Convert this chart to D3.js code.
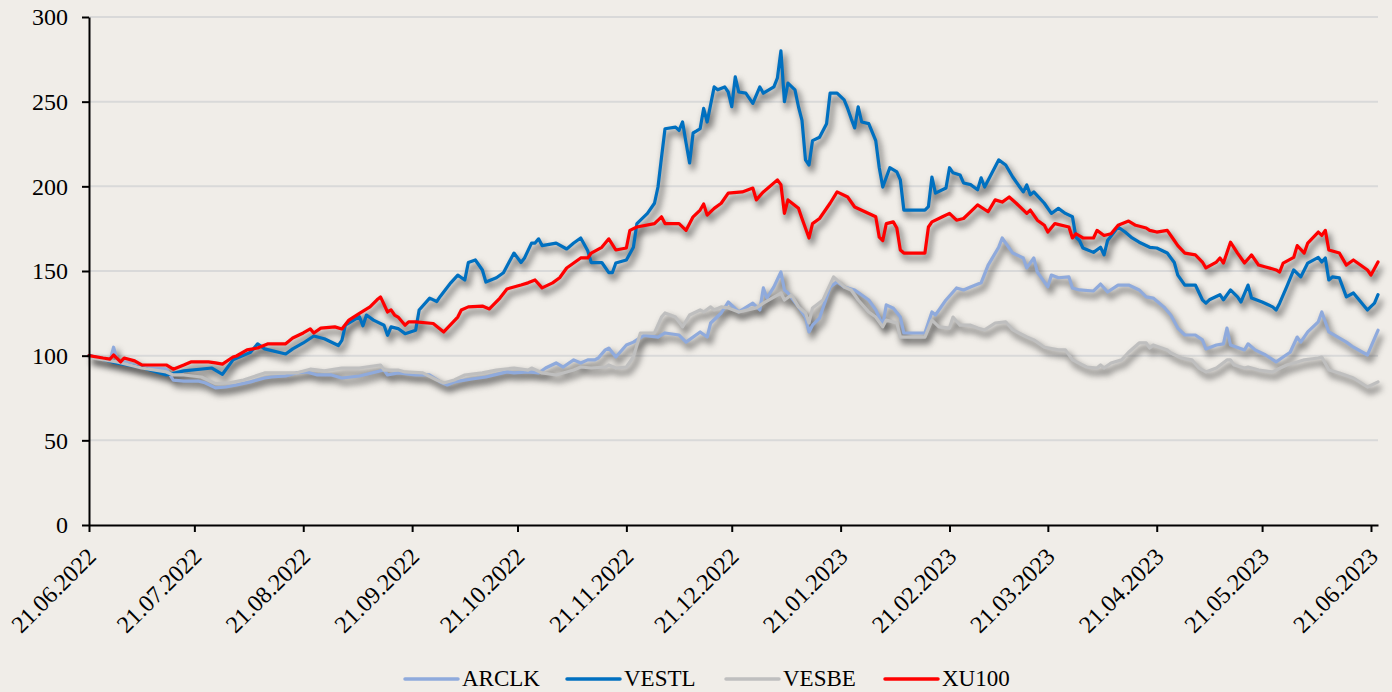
<!DOCTYPE html>
<html><head><meta charset="utf-8">
<script src="https://cdn.jsdelivr.net/npm/d3@7"></script>
<style>
html,body{margin:0;padding:0;background:#F0EDE8;}
svg{display:block;}
text{font-family:"Liberation Serif","Times New Roman",serif;fill:#000;}
</style></head>
<body>
<svg id="chart" width="1392" height="692"></svg>
<script>
const tickLabels = ["21.06.2022","21.07.2022","21.08.2022","21.09.2022","21.10.2022","21.11.2022","21.12.2022","21.01.2023","21.02.2023","21.03.2023","21.04.2023","21.05.2023","21.06.2023"];
const yTicks = [0,50,100,150,200,250,300];
const seriesNames = ["ARCLK","VESTL","VESBE","XU100"];
const seriesColors = ["#8FAADC","#0070C0","#BFBFBF","#FF0000"];

const ARCLK = [["2022-06-21",100],["2022-06-26",98],["2022-06-27",97],["2022-06-28",105],["2022-06-29",97.5],["2022-07-06",93],["2022-07-09",92.7],["2022-07-13",92],["2022-07-15",85.6],["2022-07-18",85],["2022-07-22",85],["2022-07-24",84],["2022-07-27",81],["2022-07-30",81.5],["2022-08-02",82.7],["2022-08-06",84.5],["2022-08-10",86.8],["2022-08-12",87.4],["2022-08-16",88],["2022-08-19",89.8],["2022-08-22",90.4],["2022-08-25",88.6],["2022-08-29",88.6],["2022-09-01",86.8],["2022-09-06",88],["2022-09-13",91.5],["2022-09-14",88.6],["2022-09-17",89.8],["2022-09-22",88.6],["2022-09-26",88.6],["2022-09-29",84.5],["2022-10-01",82.7],["2022-10-03",84.5],["2022-10-08",86.2],["2022-10-12",87.4],["2022-10-18",90.4],["2022-10-20",89.8],["2022-10-24",90.4],["2022-10-27",89.8],["2022-10-29",92.7],["2022-11-01",95.7],["2022-11-03",93.3],["2022-11-06",97.5],["2022-11-08",95.7],["2022-11-10",97.5],["2022-11-12",97.5],["2022-11-13",98.6],["2022-11-15",103.4],["2022-11-16",104.5],["2022-11-18",99.2],["2022-11-21",106.3],["2022-11-23",108],["2022-11-26",112],["2022-11-30",111],["2022-12-02",113.4],["2022-12-06",112.2],["2022-12-08",108],["2022-12-12",114],["2022-12-14",111],["2022-12-15",119.3],["2022-12-18",125.2],["2022-12-20",131.7],["2022-12-23",125.8],["2022-12-27",131],["2022-12-29",127],["2022-12-30",140],["2022-12-31",134],["2023-01-02",140.6],["2023-01-04",149.4],["2023-01-05",138.8],["2023-01-06",137],["2023-01-09",128.8],["2023-01-11",122.8],["2023-01-12",114],["2023-01-13",118],["2023-01-15",122.2],["2023-01-18",140.6],["2023-01-20",143.5],["2023-01-22",140.6],["2023-01-25",138.8],["2023-01-29",132.9],["2023-01-31",127],["2023-02-02",118],["2023-02-03",130],["2023-02-05",128],["2023-02-07",122.8],["2023-02-08",113.4],["2023-02-14",113.4],["2023-02-16",125.8],["2023-02-17",124],["2023-02-20",132.9],["2023-02-23",140],["2023-02-25",138.8],["2023-02-27",140.6],["2023-03-02",143],["2023-03-04",153.5],["2023-03-07",164],["2023-03-08",169.5],["2023-03-11",160.6],["2023-03-14",157.7],["2023-03-15",151.8],["2023-03-17",157.7],["2023-03-18",149.4],["2023-03-21",140.6],["2023-03-22",147.6],["2023-03-24",146],["2023-03-27",146.5],["2023-03-28",140],["2023-03-30",138.8],["2023-04-03",138.2],["2023-04-05",142.3],["2023-04-07",137.6],["2023-04-10",141.7],["2023-04-13",141.7],["2023-04-16",138.8],["2023-04-18",134.7],["2023-04-20",134],["2023-04-23",128.8],["2023-04-25",124],["2023-04-27",116.3],["2023-04-29",112.2],["2023-05-02",112.2],["2023-05-04",109.3],["2023-05-05",104],["2023-05-08",106.3],["2023-05-10",107],["2023-05-11",116.3],["2023-05-12",106.3],["2023-05-16",103.4],["2023-05-17",107],["2023-05-19",103.4],["2023-05-22",100.4],["2023-05-25",96.3],["2023-05-27",99.2],["2023-05-29",102],["2023-05-31",111],["2023-06-01",108],["2023-06-03",114],["2023-06-06",120],["2023-06-07",125.8],["2023-06-09",114],["2023-06-14",108],["2023-06-16",105],["2023-06-20",100.4],["2023-06-23",115]];

const VESTL = [["2022-06-21",100],["2022-06-29",95.6],["2022-07-06",93],["2022-07-13",88.6],["2022-07-18",91],["2022-07-26",92.7],["2022-07-29",89],["2022-08-01",97.5],["2022-08-06",102],["2022-08-08",107],["2022-08-10",104],["2022-08-16",101],["2022-08-18",104],["2022-08-21",107.5],["2022-08-24",111.6],["2022-08-27",110],["2022-08-31",106],["2022-09-01",109],["2022-09-02",118],["2022-09-06",123],["2022-09-07",117.6],["2022-09-08",124],["2022-09-10",121],["2022-09-13",118],["2022-09-14",112],["2022-09-15",117],["2022-09-17",116],["2022-09-19",113],["2022-09-22",115],["2022-09-23",127],["2022-09-26",134],["2022-09-28",132],["2022-09-29",135],["2022-10-02",143],["2022-10-04",147.6],["2022-10-06",144.7],["2022-10-07",155],["2022-10-09",156.5],["2022-10-11",150.6],["2022-10-12",143.5],["2022-10-15",146],["2022-10-17",149],["2022-10-20",160.6],["2022-10-22",155],["2022-10-23",157.7],["2022-10-25",166.5],["2022-10-26",166.5],["2022-10-27",169],["2022-10-28",165],["2022-11-01",166.5],["2022-11-04",163],["2022-11-06",166.5],["2022-11-08",169.5],["2022-11-10",162],["2022-11-11",155],["2022-11-14",155],["2022-11-16",149],["2022-11-17",149],["2022-11-18",154.7],["2022-11-21",156.5],["2022-11-23",164],["2022-11-24",178],["2022-11-27",184],["2022-11-29",190],["2022-11-30",199.6],["2022-12-01",217],["2022-12-02",234],["2022-12-05",235],["2022-12-06",233],["2022-12-07",238],["2022-12-08",225.6],["2022-12-09",213.8],["2022-12-10",231.5],["2022-12-11",232.7],["2022-12-12",234],["2022-12-13",246],["2022-12-14",238],["2022-12-16",258.7],["2022-12-17",257],["2022-12-19",258.7],["2022-12-20",255.7],["2022-12-21",247],["2022-12-22",264.6],["2022-12-23",255.7],["2022-12-25",255],["2022-12-27",249],["2022-12-29",258.7],["2022-12-30",255],["2023-01-02",258.7],["2023-01-03",264],["2023-01-04",280],["2023-01-05",250],["2023-01-06",261],["2023-01-08",257],["2023-01-09",247],["2023-01-10",239],["2023-01-11",215.6],["2023-01-12",212.6],["2023-01-13",227],["2023-01-15",229],["2023-01-17",237],["2023-01-18",255],["2023-01-20",255],["2023-01-22",251],["2023-01-23",246],["2023-01-24",240],["2023-01-25",234.5],["2023-01-26",247],["2023-01-27",238],["2023-01-29",237],["2023-01-31",227],["2023-02-01",211],["2023-02-02",199.6],["2023-02-04",211],["2023-02-06",208.5],["2023-02-07",203.8],["2023-02-08",186],["2023-02-14",186],["2023-02-15",188],["2023-02-16",205.5],["2023-02-17",196],["2023-02-20",199],["2023-02-21",211],["2023-02-22",208],["2023-02-24",206.7],["2023-02-25",202],["2023-02-27",201],["2023-03-01",198],["2023-03-02",205],["2023-03-03",199.6],["2023-03-07",215.6],["2023-03-09",212.6],["2023-03-11",205.5],["2023-03-13",199.6],["2023-03-14",196.7],["2023-03-15",200.8],["2023-03-16",195],["2023-03-17",196.7],["2023-03-20",190],["2023-03-22",184],["2023-03-24",187],["2023-03-26",184],["2023-03-28",182],["2023-03-29",170],["2023-03-30",168],["2023-03-31",163.6],["2023-04-03",161],["2023-04-05",164],["2023-04-06",159.5],["2023-04-07",168],["2023-04-10",176],["2023-04-12",173],["2023-04-14",169.5],["2023-04-16",167],["2023-04-19",164],["2023-04-21",163.6],["2023-04-24",160.6],["2023-04-26",155],["2023-04-27",147.6],["2023-04-29",141.7],["2023-05-02",141.7],["2023-05-04",133],["2023-05-05",131],["2023-05-06",133],["2023-05-09",136],["2023-05-10",133],["2023-05-12",138.8],["2023-05-14",134.7],["2023-05-15",131.7],["2023-05-17",141.7],["2023-05-18",134],["2023-05-21",131.7],["2023-05-24",128.8],["2023-05-25",127],["2023-05-26",131],["2023-05-28",140.6],["2023-05-30",150.6],["2023-06-01",146.5],["2023-06-03",154.7],["2023-06-06",158],["2023-06-07",155.3],["2023-06-08",157.7],["2023-06-09",144.7],["2023-06-10",146.5],["2023-06-12",145.9],["2023-06-14",134.7],["2023-06-16",137],["2023-06-20",127],["2023-06-22",131],["2023-06-23",136]];

const VESBE = [["2022-06-21",99],["2022-06-29",96.3],["2022-07-06",92.7],["2022-07-13",90.4],["2022-07-15",88.6],["2022-07-18",88.6],["2022-07-23",87.4],["2022-07-27",83.5],["2022-07-31",84],["2022-08-04",85.6],["2022-08-10",89.8],["2022-08-16",89.8],["2022-08-19",89.8],["2022-08-23",92],["2022-08-27",91],["2022-09-01",92.7],["2022-09-06",92.7],["2022-09-12",94.5],["2022-09-13",91.5],["2022-09-17",91.5],["2022-09-19",90.4],["2022-09-24",89.8],["2022-09-28",85.6],["2022-09-30",83.9],["2022-10-03",85.6],["2022-10-06",88.6],["2022-10-11",89.8],["2022-10-15",91.5],["2022-10-20",92.7],["2022-10-24",91.5],["2022-10-25",92.7],["2022-10-28",89.8],["2022-11-01",88.6],["2022-11-06",91.5],["2022-11-08",93.3],["2022-11-11",92.7],["2022-11-15",93.3],["2022-11-16",94.5],["2022-11-18",92.7],["2022-11-21",93.3],["2022-11-23",99.2],["2022-11-25",113.4],["2022-11-29",113.4],["2022-12-01",122.8],["2022-12-02",125.2],["2022-12-05",122.8],["2022-12-07",117],["2022-12-09",124],["2022-12-12",127],["2022-12-13",125.8],["2022-12-15",128.8],["2022-12-16",127],["2022-12-18",128.8],["2022-12-20",128.2],["2022-12-23",125.8],["2022-12-28",128.2],["2022-12-30",131],["2023-01-03",135.8],["2023-01-04",137],["2023-01-05",132.9],["2023-01-07",135.8],["2023-01-09",128.8],["2023-01-11",125.2],["2023-01-12",119.3],["2023-01-13",128.2],["2023-01-16",132.9],["2023-01-19",146.5],["2023-01-22",140.6],["2023-01-24",138.8],["2023-01-26",132.9],["2023-01-29",125.8],["2023-01-31",122.8],["2023-02-02",117],["2023-02-03",121],["2023-02-06",119.3],["2023-02-07",111],["2023-02-14",111],["2023-02-16",121],["2023-02-18",117],["2023-02-21",116.3],["2023-02-22",122.8],["2023-02-24",118],["2023-02-27",118],["2023-03-01",116.3],["2023-03-03",115.2],["2023-03-06",119.3],["2023-03-09",120],["2023-03-11",115.2],["2023-03-15",111],["2023-03-17",109.3],["2023-03-20",105],["2023-03-24",103.4],["2023-03-26",103.4],["2023-03-28",97.5],["2023-04-01",93.3],["2023-04-04",92.7],["2023-04-05",94.5],["2023-04-06",92.7],["2023-04-08",95.7],["2023-04-11",97.5],["2023-04-13",102],["2023-04-16",107.5],["2023-04-18",107.5],["2023-04-19",104.5],["2023-04-20",106.3],["2023-04-24",103.4],["2023-04-25",101.6],["2023-04-28",98.6],["2023-05-01",97.5],["2023-05-03",92.7],["2023-05-05",90.4],["2023-05-08",92.7],["2023-05-11",97.5],["2023-05-12",97.5],["2023-05-13",94.5],["2023-05-16",92.7],["2023-05-17",93.3],["2023-05-20",91.5],["2023-05-24",90.4],["2023-05-25",91.5],["2023-05-28",94.5],["2023-05-31",96.3],["2023-06-02",97.5],["2023-06-06",98.6],["2023-06-07",99.2],["2023-06-09",91.5],["2023-06-12",89.8],["2023-06-16",86.8],["2023-06-20",81.5],["2023-06-23",84.5]];

const XU100 = [["2022-06-21",100],["2022-06-25",98.6],["2022-06-27",98],["2022-06-28",100.4],["2022-06-30",96.3],["2022-07-01",98.6],["2022-07-04",96.9],["2022-07-06",94.5],["2022-07-09",94.5],["2022-07-13",94.5],["2022-07-15",92],["2022-07-18",94.5],["2022-07-20",96.3],["2022-07-25",96.3],["2022-07-27",95.7],["2022-07-29",95],["2022-08-01",99.2],["2022-08-02",99.8],["2022-08-05",103.4],["2022-08-08",104.5],["2022-08-11",107],["2022-08-16",107],["2022-08-18",110.4],["2022-08-21",113.4],["2022-08-23",115.8],["2022-08-24",113.4],["2022-08-26",116.3],["2022-08-30",117],["2022-09-01",115.8],["2022-09-03",121],["2022-09-06",125],["2022-09-09",128.8],["2022-09-11",133],["2022-09-12",134.7],["2022-09-14",125.8],["2022-09-15",127],["2022-09-16",124],["2022-09-17",122.8],["2022-09-19",118],["2022-09-20",120],["2022-09-22",120],["2022-09-27",119],["2022-09-30",114],["2022-10-04",122.8],["2022-10-05",127],["2022-10-07",128.8],["2022-10-11",129.3],["2022-10-13",127.6],["2022-10-16",134],["2022-10-18",139.4],["2022-10-22",141.7],["2022-10-24",143],["2022-10-26",144.7],["2022-10-28",140],["2022-10-31",143],["2022-11-02",146],["2022-11-04",151.8],["2022-11-06",154.7],["2022-11-08",157.7],["2022-11-10",157.7],["2022-11-11",160.6],["2022-11-14",164],["2022-11-16",169],["2022-11-18",162.4],["2022-11-21",163.6],["2022-11-22",174],["2022-11-24",176],["2022-11-29",178],["2022-12-01",182],["2022-12-02",178],["2022-12-06",178],["2022-12-08",174],["2022-12-10",182],["2022-12-12",186],["2022-12-13",189.6],["2022-12-14",183],["2022-12-16",187],["2022-12-18",190],["2022-12-20",196],["2022-12-24",196.7],["2022-12-27",199],["2022-12-28",192],["2022-12-30",196.7],["2023-01-03",203.8],["2023-01-04",201],["2023-01-05",184],["2023-01-06",192],["2023-01-09",187],["2023-01-10",181],["2023-01-12",169.5],["2023-01-13",178],["2023-01-15",181],["2023-01-18",190],["2023-01-20",196.7],["2023-01-23",193.7],["2023-01-25",187.8],["2023-01-29",184],["2023-01-31",182],["2023-02-01",170],["2023-02-02",168],["2023-02-03",178],["2023-02-05",179],["2023-02-06",175.4],["2023-02-07",162.4],["2023-02-08",160.6],["2023-02-14",160.6],["2023-02-15",176],["2023-02-16",179],["2023-02-19",182],["2023-02-21",184],["2023-02-23",180],["2023-02-25",181],["2023-02-28",187],["2023-03-01",189],["2023-03-04",185],["2023-03-06",192],["2023-03-08",190.7],["2023-03-10",193.7],["2023-03-12",190],["2023-03-15",184],["2023-03-16",186],["2023-03-18",180],["2023-03-20",177],["2023-03-21",173],["2023-03-23",178],["2023-03-27",176],["2023-03-28",169.5],["2023-03-29",172],["2023-03-31",169.5],["2023-04-03",169.5],["2023-04-04",174],["2023-04-06",171],["2023-04-08",172],["2023-04-10",177],["2023-04-13",179.5],["2023-04-15",177],["2023-04-18",175.4],["2023-04-19",174],["2023-04-21",173],["2023-04-24",174],["2023-04-26",168],["2023-04-27",165],["2023-04-29",160.6],["2023-05-02",159.5],["2023-05-04",155.3],["2023-05-05",151.8],["2023-05-08",155.3],["2023-05-09",157.7],["2023-05-10",154.7],["2023-05-12",167],["2023-05-14",160.6],["2023-05-16",154.7],["2023-05-18",159.5],["2023-05-20",153.5],["2023-05-22",152.4],["2023-05-25",150.6],["2023-05-26",149.4],["2023-05-27",154.7],["2023-05-30",158],["2023-05-31",165],["2023-06-02",160.6],["2023-06-03",166.5],["2023-06-06",173],["2023-06-07",171],["2023-06-08",174],["2023-06-09",162.4],["2023-06-12",160.6],["2023-06-14",153.5],["2023-06-16",156.5],["2023-06-20",150.6],["2023-06-21",147.6],["2023-06-23",155.3]];

const seriesData = [ARCLK, VESTL, VESBE, XU100];

const parseISO = d3.timeParse("%Y-%m-%d");
const parseTick = d3.timeParse("%d.%m.%Y");
const fmtTick = d3.timeFormat("%d.%m.%Y");

const svg = d3.select("#chart");
const L = 89, R = 1378, T = 17, B = 525;

const x = d3.scaleTime().domain([parseISO("2022-06-21"), parseISO("2023-06-23")]).range([L, R]);
const y = d3.scaleLinear().domain([0, 300]).range([B, T]);

svg.append("rect").attr("width",1392).attr("height",692).attr("fill","#F0EDE8");

// gridlines
svg.append("g").selectAll("line").data(yTicks.filter(v => v > 0)).join("line")
  .attr("x1", L).attr("x2", R).attr("y1", d => y(d)).attr("y2", d => y(d))
  .attr("stroke", "#D9D9D9").attr("stroke-width", 2);

const line = d3.line().x(d => x(parseISO(d[0]))).y(d => y(d[1])).curve(d3.curveLinear);

// soft drop shadows then lines, series in order
const shadowG = svg.append("g").attr("transform","translate(3,5)").style("filter","blur(3px)");
const linesG = svg.append("g");
seriesData.forEach((data, i) => {
  shadowG.append("path").attr("d", line(data)).attr("fill","none")
    .attr("stroke","#3a3a3a").attr("stroke-opacity",0.6).attr("stroke-width",5)
    .attr("stroke-linejoin","round");
  linesG.append("path").attr("d", line(data)).attr("fill","none")
    .attr("stroke", seriesColors[i]).attr("stroke-width", 3.2)
    .attr("stroke-linejoin","round").attr("stroke-linecap","round");
});

// y axis
const yAxis = svg.append("g").attr("transform", `translate(${L},0)`)
  .call(d3.axisLeft(y).tickValues(yTicks).tickSize(7).tickSizeOuter(0).tickPadding(14));
yAxis.select(".domain").attr("stroke","#000").attr("stroke-width",2);
yAxis.selectAll(".tick line").attr("stroke","#000").attr("stroke-width",2);
yAxis.selectAll(".tick text").attr("font-size",24).attr("font-family","Liberation Serif, serif").attr("fill","#000");

// x axis
const xAxis = svg.append("g").attr("transform", `translate(0,${B})`)
  .call(d3.axisBottom(x).tickValues(tickLabels.map(parseTick)).tickFormat(fmtTick).tickSize(7).tickSizeOuter(0));
xAxis.select(".domain").attr("stroke","#000").attr("stroke-width",2);
xAxis.selectAll(".tick line").attr("stroke","#000").attr("stroke-width",2);
xAxis.selectAll(".tick text").attr("font-size",24).attr("font-family","Liberation Serif, serif").attr("fill","#000")
  .attr("text-anchor","end").attr("dy",0).attr("y",0)
  .attr("transform","translate(8,33) rotate(-45)");

// legend
const legendX = [405, 567, 726, 885];
const lg = svg.append("g").selectAll("g").data(seriesNames).join("g")
  .attr("transform", (d,i) => `translate(${legendX[i]},679)`);
lg.append("line").attr("x1",0).attr("x2",53).attr("y1",0).attr("y2",0)
  .attr("stroke",(d,i)=>seriesColors[i]).attr("stroke-width",3.5).attr("stroke-linecap","round");
lg.append("text").attr("x",57).attr("y",7).attr("font-size",23).text(d => d);
</script>
</body></html>
